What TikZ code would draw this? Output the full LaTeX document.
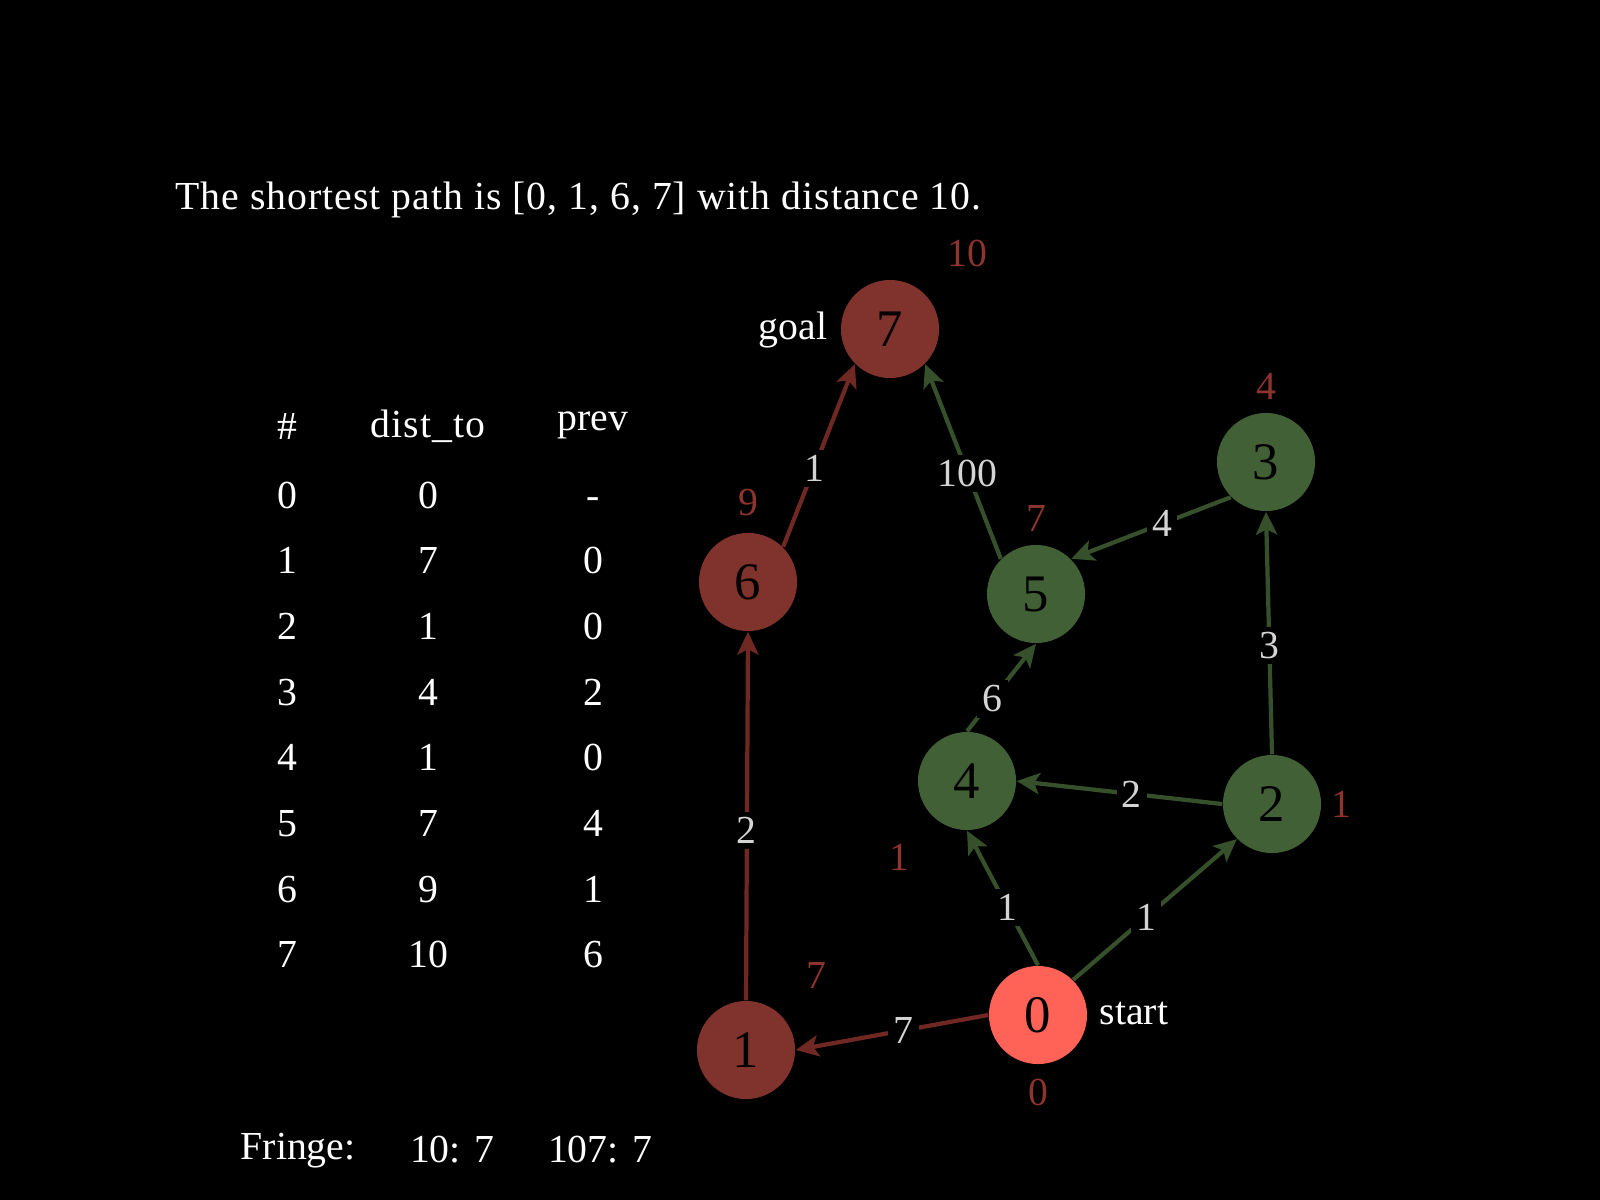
\documentclass[tikz,border=0pt]{standalone}
\usepackage{fontspec}
\setmainfont{Liberation Serif}
\usetikzlibrary{arrows.meta}
\definecolor{pathred}{RGB}{128,51,45}
\definecolor{nodegreen}{RGB}{66,96,53}
\definecolor{startred}{RGB}{255,99,87}
\definecolor{edgered}{RGB}{112,40,35}
\definecolor{edgegreen}{RGB}{55,80,44}
\definecolor{distred}{RGB}{140,52,45}
\definecolor{elabel}{RGB}{212,212,212}
\tikzset{
  vtx/.style={circle,minimum size=0.98cm,inner sep=0pt,text=black,font=\fontsize{15}{17}\selectfont},
  onpath/.style={vtx,fill=pathred},
  visited/.style={vtx,fill=nodegreen},
  startnode/.style={vtx,fill=startred},
  txt/.style={text=white,font=\fontsize{11.3}{13}\selectfont,inner sep=0pt},
  cell/.style={txt,execute at begin node=\vphantom{0}},
  dist/.style={text=distred,font=\fontsize{11.3}{13}\selectfont,inner sep=0pt},
  wlabel/.style={fill=black,text=elabel,font=\fontsize{11.3}{13}\selectfont,inner sep=1.5pt},
  edge/.style={line width=1.2pt,-{Stealth[length=6.5pt,width=6pt,inset=1.5pt]}},
  redge/.style={edge,draw=edgered},
  gedge/.style={edge,draw=edgegreen}
}
\begin{document}
\begin{tikzpicture}[x=0.01cm,y=-0.01cm]
\fill[black] (0,0) rectangle (1600,1200);
\useasboundingbox (0,0) rectangle (1600,1200);
% title
\node[txt,anchor=west] (title) at (175,200) {\addfontfeature{LetterSpace=2.5}The shortest path is [0, 1, 6, 7] with distance 10.};
% table
\node[cell] (hnum) at (287,426) {\#};
\node[txt] (hdist) at (428,426) {\addfontfeature{LetterSpace=2.5}dist\_to};
\node[txt] (hprev) at (593,425) {prev};
\foreach \i/\d/\p/\y in {0/0/-/495, 1/7/0/560, 2/1/0/626, 3/4/2/692, 4/1/0/757, 5/7/4/823, 6/9/1/889, 7/10/6/954}{
  \node[cell] (r\i a) at (287,\y) {\i};
  \node[cell] (r\i b) at (428,\y) {\d};
  \node[cell] (r\i c) at (593,\y) {\p};
}
% fringe
\node[txt,anchor=west] (fringe) at (240,1151) {Fringe:};
\node[cell] (f1) at (452,1150) {10: 7};
\node[cell] (f2) at (600,1150) {107: 7};
% vertices
\node[onpath] (n7) at (890,329) {7};
\node[onpath] (n6) at (748,582) {6};
\node[visited] (n5) at (1036,594) {5};
\node[visited] (n3) at (1266,462) {3};
\node[visited] (n4) at (967,781) {4};
\node[visited] (n2) at (1272,804) {2};
\node[startnode] (n0) at (1038,1015) {0};
\node[onpath] (n1) at (746,1050) {1};
% vertex side labels
\node[txt,anchor=east] (goal) at (828,330) {goal};
\node[txt,anchor=west] (start) at (1099,1013) {start};
% distance labels
\node[dist] (d7) at (967,253) {10};
\node[dist] (d6) at (748,503) {9};
\node[dist] (d5) at (1036,518) {7};
\node[dist] (d3) at (1266,386) {4};
\node[dist] (d4) at (899,857) {1};
\node[dist] (d2) at (1341,804) {1};
\node[dist] (d1) at (816,975) {7};
\node[dist] (d0) at (1038,1092) {0};
% edges
\draw[redge] (n0.west) -- node[wlabel,pos=0.44] {7} (n1.east);
\draw[redge] (n1.north) -- node[wlabel,pos=0.46] {2} (n6.south);
\draw[redge] (n6.45) -- node[wlabel,pos=0.43] {1} (n7.225);
\draw[gedge] (n5.135) -- node[wlabel,pos=0.44] {100} (n7.315);
\draw[gedge] (n3.225) -- node[wlabel,pos=0.43] {4} (n5.45);
\draw[gedge] (n2.north) -- node[wlabel,pos=0.45] {3} (n3.south);
\draw[gedge] (n4.north) -- node[wlabel,pos=0.37] {6} (n5.south);
\draw[gedge] (n2.west) -- node[wlabel,pos=0.44] {2} (n4.east);
\draw[gedge] (n0.north) -- node[wlabel,pos=0.43] {1} (n4.south);
\draw[gedge] (n0.45) -- node[wlabel,pos=0.445] {1} (n2.225);
\end{tikzpicture}
\end{document}
